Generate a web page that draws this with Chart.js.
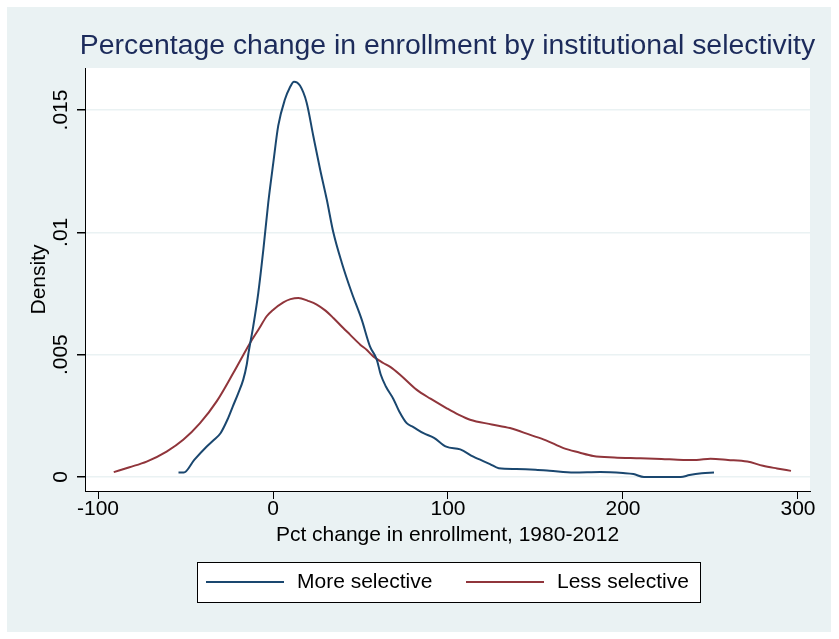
<!DOCTYPE html>
<html>
<head>
<meta charset="utf-8">
<title>Percentage change in enrollment by institutional selectivity</title>
<script src="https://cdn.jsdelivr.net/npm/chart.js@4"></script>
<style>
  body { margin: 0; background: #fff; }
  canvas { display: block; }
</style>
</head>
<body>
<canvas id="densityChart" width="839" height="639"></canvas>
<script>
// Kernel density curves
const moreX = [-54, -51, -45, -38, -34, -30, -26, -23, -20, -17, -15, -14, -11.3, -8.4, -5.5, -2.7, 0.2, 3, 6.9, 9.5,
               12, 15.4, 19.2, 23, 26.9, 30.7, 34.5, 39.3, 45, 50.7, 55.4, 59.3, 61.5, 64.5, 68.7, 72, 76.4, 80, 86, 92,
               99, 107, 114.5, 124, 129, 139, 150, 158, 172, 187, 200, 206, 212, 225, 233, 238, 245, 252];
const moreY = [.00018, .00018, .0007, .00124, .0015, .00179, .00235, .00288, .0034, .00398, .0046, .00507, .00616, .00753, .0093, .01122, .01286, .01436, .01545, .0159,
               .01616, .016, .01531, .01395, .01258, .01135, .00999, .00876, .00753, .00643, .00534, .0048, .0042, .0037, .0032, .0027, .0022, .00205, .00179, .0016,
               .00124, .00113, .00083, .00053, .00036, .00033, .0003, .00026, .00018, .0002, .00016, .00012, 0, 0, 0, .00008, .00015, .00018];

const lessX = [-91, -82, -72.2, -60.8, -51.3, -41.7, -32.2, -22.7, -13.1, -8, -3.6, 0, 5.9, 10, 14.5, 20, 25, 30,
               34.5, 40, 44, 50, 53.5, 57.3, 63, 67, 72.6, 82, 90, 99.3, 106, 112.6, 125, 135.4, 147, 156, 166, 175,
               183, 195, 210, 222, 234.5, 242, 250, 260, 271, 280, 288, 296];
const lessY = [.0002, .0004, .00063, .00104, .00152, .0022, .00309, .00425, .00548, .00606, .00657, .00683, .00714, .00727, .00732, .0072, .00705, .0068,
               .0065, .0061, .00582, .0054, .0052, .00493, .00466, .0045, .00418, .00357, .0032, .00281, .00255, .00234, .00215, .002, .00172, .0015, .00118, .001,
               .00086, .0008, .00077, .00074, .0007, .0007, .00075, .0007, .00063, .00046, .00035, .00025];

const chartTitle = 'Percentage change in enrollment by institutional selectivity';
const seriesNames = ['More selective', 'Less selective'];
const xTicks = [-100, 0, 100, 200, 300];
const yTicks = [0, 0.005, 0.01, 0.015];
const yTickLabels = ['0', '.005', '.01', '.015'];

const FONT = 'Arial, "Liberation Sans", sans-serif';
Chart.defaults.font.family = FONT;

function toPoints(xs, ys) {
    return xs.map((x, i) => ({ x: x, y: ys[i] }));
}

// Stata style background: light blue graph region, white plot region
const backgroundPlugin = {
    id: 'stataBackground',
    beforeDraw(chart) {
        const { ctx, chartArea } = chart;
        ctx.save();
        ctx.fillStyle = '#ffffff';
        ctx.fillRect(0, 0, chart.width, chart.height);
        ctx.fillStyle = '#eaf2f3';
        ctx.fillRect(7, 7, chart.width - 15, chart.height - 14);
        ctx.fillStyle = '#ffffff';
        ctx.fillRect(chartArea.left, chartArea.top, chartArea.right - chartArea.left, chartArea.bottom - chartArea.top);
        ctx.restore();
    }
};

// title is wider than the plot region, so it's drawn here instead of the title plugin
// (the plugin squeezes text to the box width)
const titlePlugin = {
    id: 'wideTitle',
    afterDraw(chart) {
        const { ctx, chartArea } = chart;
        ctx.save();
        ctx.font = '28.4px ' + FONT;
        ctx.fillStyle = '#1c2b5b';
        ctx.textAlign = 'center';
        ctx.textBaseline = 'middle';
        ctx.fillText(chartTitle, (chartArea.left + chartArea.right) / 2, chartArea.top - 22);
        ctx.restore();
    }
};

// y tick labels are vertical in the original, Chart.js won't rotate y ticks
const yLabelPlugin = {
    id: 'rotatedYLabels',
    afterDraw(chart) {
        const y = chart.scales.y;
        const ctx = chart.ctx;
        ctx.save();
        ctx.font = '21px ' + FONT;
        ctx.fillStyle = '#000';
        ctx.textAlign = 'center';
        ctx.textBaseline = 'alphabetic';
        yTicks.forEach((v, i) => {
            ctx.save();
            ctx.translate(y.right - 18.5, y.getPixelForValue(v));
            ctx.rotate(-Math.PI / 2);
            ctx.fillText(yTickLabels[i], 0, 0);
            ctx.restore();
        });
        ctx.restore();
    }
};

// boxed legend under the plot
const legendPlugin = {
    id: 'boxedLegend',
    afterDraw(chart) {
        const ctx = chart.ctx;
        const box = { x: 197.5, y: 562.5, w: 503, h: 40 };
        const lineY = 582;
        const items = [{ x: 206 }, { x: 466 }];
        ctx.save();
        ctx.fillStyle = '#ffffff';
        ctx.fillRect(box.x, box.y, box.w, box.h);
        ctx.strokeStyle = '#000';
        ctx.lineWidth = 1;
        ctx.strokeRect(box.x, box.y, box.w, box.h);
        ctx.font = '21px ' + FONT;
        ctx.textAlign = 'left';
        ctx.textBaseline = 'middle';
        chart.data.datasets.forEach((ds, i) => {
            const x0 = items[i].x;
            ctx.strokeStyle = ds.borderColor;
            ctx.lineWidth = 2;
            ctx.beginPath();
            ctx.moveTo(x0, lineY);
            ctx.lineTo(x0 + 78, lineY);
            ctx.stroke();
            ctx.fillStyle = '#000';
            ctx.fillText(ds.label, x0 + 91, lineY);
        });
        ctx.restore();
    }
};

const ctx = document.getElementById('densityChart').getContext('2d');
const densityChart = new Chart(ctx, {
    type: 'line',
    data: {
        datasets: [
            {
                label: seriesNames[0],
                data: toPoints(moreX, moreY),
                borderColor: '#1a476f',
                borderWidth: 2,
                pointRadius: 0,
                cubicInterpolationMode: 'monotone'
            },
            {
                label: seriesNames[1],
                data: toPoints(lessX, lessY),
                borderColor: '#90353b',
                borderWidth: 2,
                pointRadius: 0,
                cubicInterpolationMode: 'monotone'
            }
        ]
    },
    options: {
        responsive: false,
        animation: false,
        devicePixelRatio: 1,
        layout: { padding: { left: 0, right: 29, top: 68, bottom: 80 } },
        plugins: {
            legend: { display: false },
            tooltip: { enabled: false },
            title: { display: false }
        },
        scales: {
            x: {
                type: 'linear',
                min: -107.43,
                max: 306.86,
                afterBuildTicks: scale => { scale.ticks = xTicks.map(v => ({ value: v })); },
                afterFit: scale => { scale.height = 68; },
                grid: { drawOnChartArea: false, drawTicks: true, tickLength: 8, tickColor: '#000' },
                border: { color: '#000', width: 1 },
                ticks: { color: '#000', font: { size: 21 }, padding: -2, maxRotation: 0, callback: v => String(v) },
                title: {
                    display: true,
                    text: 'Pct change in enrollment, 1980-2012',
                    color: '#000',
                    font: { size: 21 },
                    padding: { top: 0, bottom: 10.7 }
                }
            },
            y: {
                type: 'linear',
                min: -0.000572,
                max: 0.016717,
                afterBuildTicks: scale => { scale.ticks = yTicks.map(v => ({ value: v })); },
                afterFit: scale => { scale.width = 85; },
                grid: { color: '#eaf2f3', lineWidth: 1.5, drawTicks: true, tickLength: 8, tickColor: '#000' },
                border: { color: '#000', width: 1 },
                ticks: { display: false },
                title: {
                    display: true,
                    text: 'Density',
                    color: '#000',
                    font: { size: 21 },
                    padding: { top: 27, bottom: 0 }
                }
            }
        }
    },
    plugins: [backgroundPlugin, titlePlugin, yLabelPlugin, legendPlugin]
});
</script>
</body>
</html>
